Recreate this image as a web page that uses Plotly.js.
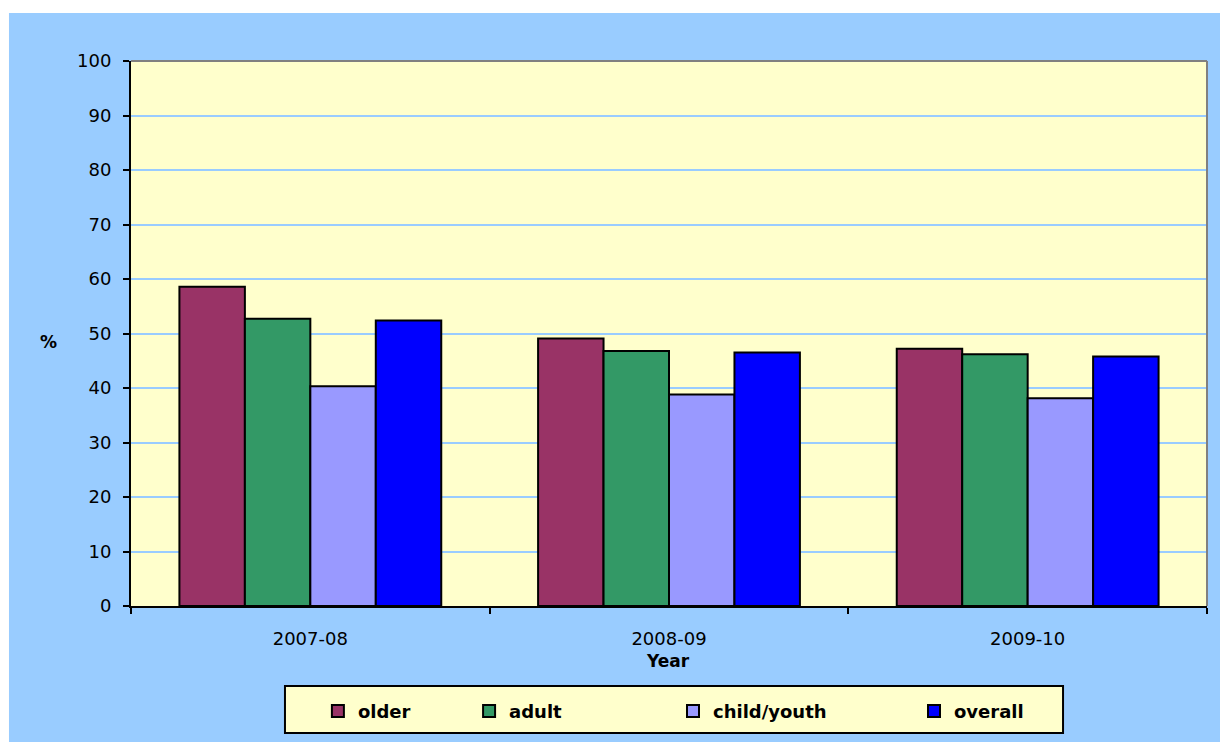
<!DOCTYPE html>
<html>
<head>
<meta charset="utf-8">
<script src="https://cdn.plot.ly/plotly-3.0.1.min.js"></script>
<style>
  html, body { margin: 0; padding: 0; background: #ffffff; }
  #chart { width: 1220px; height: 742px; }
</style>
</head>
<body>
<div id="chart"></div>
<script>
// Share of clients (%) by age group, per financial year
const years = ['2007-08', '2008-09', '2009-10'];
const older = [58.6, 49.1, 47.2];
const adult = [52.7, 46.8, 46.2];
const childYouth = [40.3, 38.8, 38.1];
const overall = [52.4, 46.5, 45.8];

const seriesNames = ['older', 'adult', 'child/youth', 'overall'];
const seriesValues = [older, adult, childYouth, overall];
const seriesColors = ['#993366', '#339966', '#9999FF', '#0000FF'];
const legendIds = ['legend', 'legend2', 'legend3', 'legend4'];
const legendX = [0.1737, 0.3142, 0.5037, 0.7277];

const traces = seriesNames.map((name, i) => ({
  type: 'bar',
  name: name,
  x: years,
  y: seriesValues[i],
  legend: legendIds[i],
  marker: { color: seriesColors[i], line: { color: '#000000', width: 2 } },
  hoverinfo: 'x+y+name'
}));

const legendFont = { family: 'DejaVu Sans, sans-serif', size: 18, color: '#000000', weight: 'bold' };
function makeLegend(x) {
  return {
    x: x, xanchor: 'left', y: -0.193, yanchor: 'middle',
    bgcolor: 'rgba(0,0,0,0)', borderwidth: 0,
    font: legendFont, orientation: 'h'
  };
}

const layout = {
  width: 1220,
  height: 742,
  margin: { l: 131, r: 13, t: 61, b: 136, pad: 0 },
  paper_bgcolor: '#99CCFF',
  plot_bgcolor: '#FFFFCC',
  font: { family: 'DejaVu Sans, sans-serif', size: 18, color: '#000000' },
  barmode: 'group',
  bargap: 0.27,
  bargroupgap: 0,
  showlegend: true,
  legend: makeLegend(legendX[0]),
  legend2: makeLegend(legendX[1]),
  legend3: makeLegend(legendX[2]),
  legend4: makeLegend(legendX[3]),
  xaxis: {
    type: 'category',
    showline: true, linecolor: '#000000', linewidth: 2,
    ticks: 'outside', tickson: 'boundaries', ticklen: 6, tickwidth: 2, tickcolor: '#000000',
    ticklabelstandoff: 15,
    showgrid: false, zeroline: false, fixedrange: true
  },
  yaxis: {
    range: [0, 100], dtick: 10, tick0: 0,
    showline: true, linecolor: '#000000', linewidth: 2,
    ticks: 'outside', ticklen: 6, tickwidth: 2, tickcolor: '#000000',
    ticklabelstandoff: 8,
    showgrid: true, gridcolor: '#99CCFF', gridwidth: 2,
    zeroline: false, fixedrange: true
  },
  shapes: [
    // white margin strips along the top and left edges
    { type: 'rect', xref: 'paper', yref: 'paper', x0: -0.1218, x1: -0.1134, y0: -0.2496, y1: 1.1120,
      fillcolor: '#ffffff', line: { width: 0 }, layer: 'below' },
    { type: 'rect', xref: 'paper', yref: 'paper', x0: -0.1218, x1: 1.0121, y0: 1.0881, y1: 1.1120,
      fillcolor: '#ffffff', line: { width: 0 }, layer: 'below' },
    // grey frame on the top and right of the plot area
    { type: 'line', xref: 'paper', yref: 'paper', x0: 0, x1: 1, y0: 1, y1: 1,
      line: { color: '#808080', width: 2 } },
    { type: 'line', xref: 'paper', yref: 'paper', x0: 1, x1: 1, y0: 0, y1: 1,
      line: { color: '#808080', width: 2 } },
    // legend box
    { type: 'rect', xref: 'paper', yref: 'paper', x0: 0.1431, x1: 0.8662, y0: -0.2330, y1: -0.1468,
      fillcolor: '#FFFFCC', line: { color: '#000000', width: 2 }, layer: 'below' }
  ],
  annotations: [
    { text: '%', xref: 'paper', yref: 'paper', x: -0.0771, y: 0.4844,
      xanchor: 'center', yanchor: 'middle', showarrow: false,
      font: { family: 'DejaVu Sans, sans-serif', size: 17, color: '#000000', weight: 'bold' } },
    { text: 'Year', xref: 'paper', yref: 'paper', x: 0.499, y: -0.1009,
      xanchor: 'center', yanchor: 'middle', showarrow: false,
      font: { family: 'DejaVu Sans, sans-serif', size: 17, color: '#000000', weight: 'bold' } }
  ]
};

Plotly.newPlot('chart', traces, layout, { displayModeBar: false, staticPlot: true });
</script>
</body>
</html>
